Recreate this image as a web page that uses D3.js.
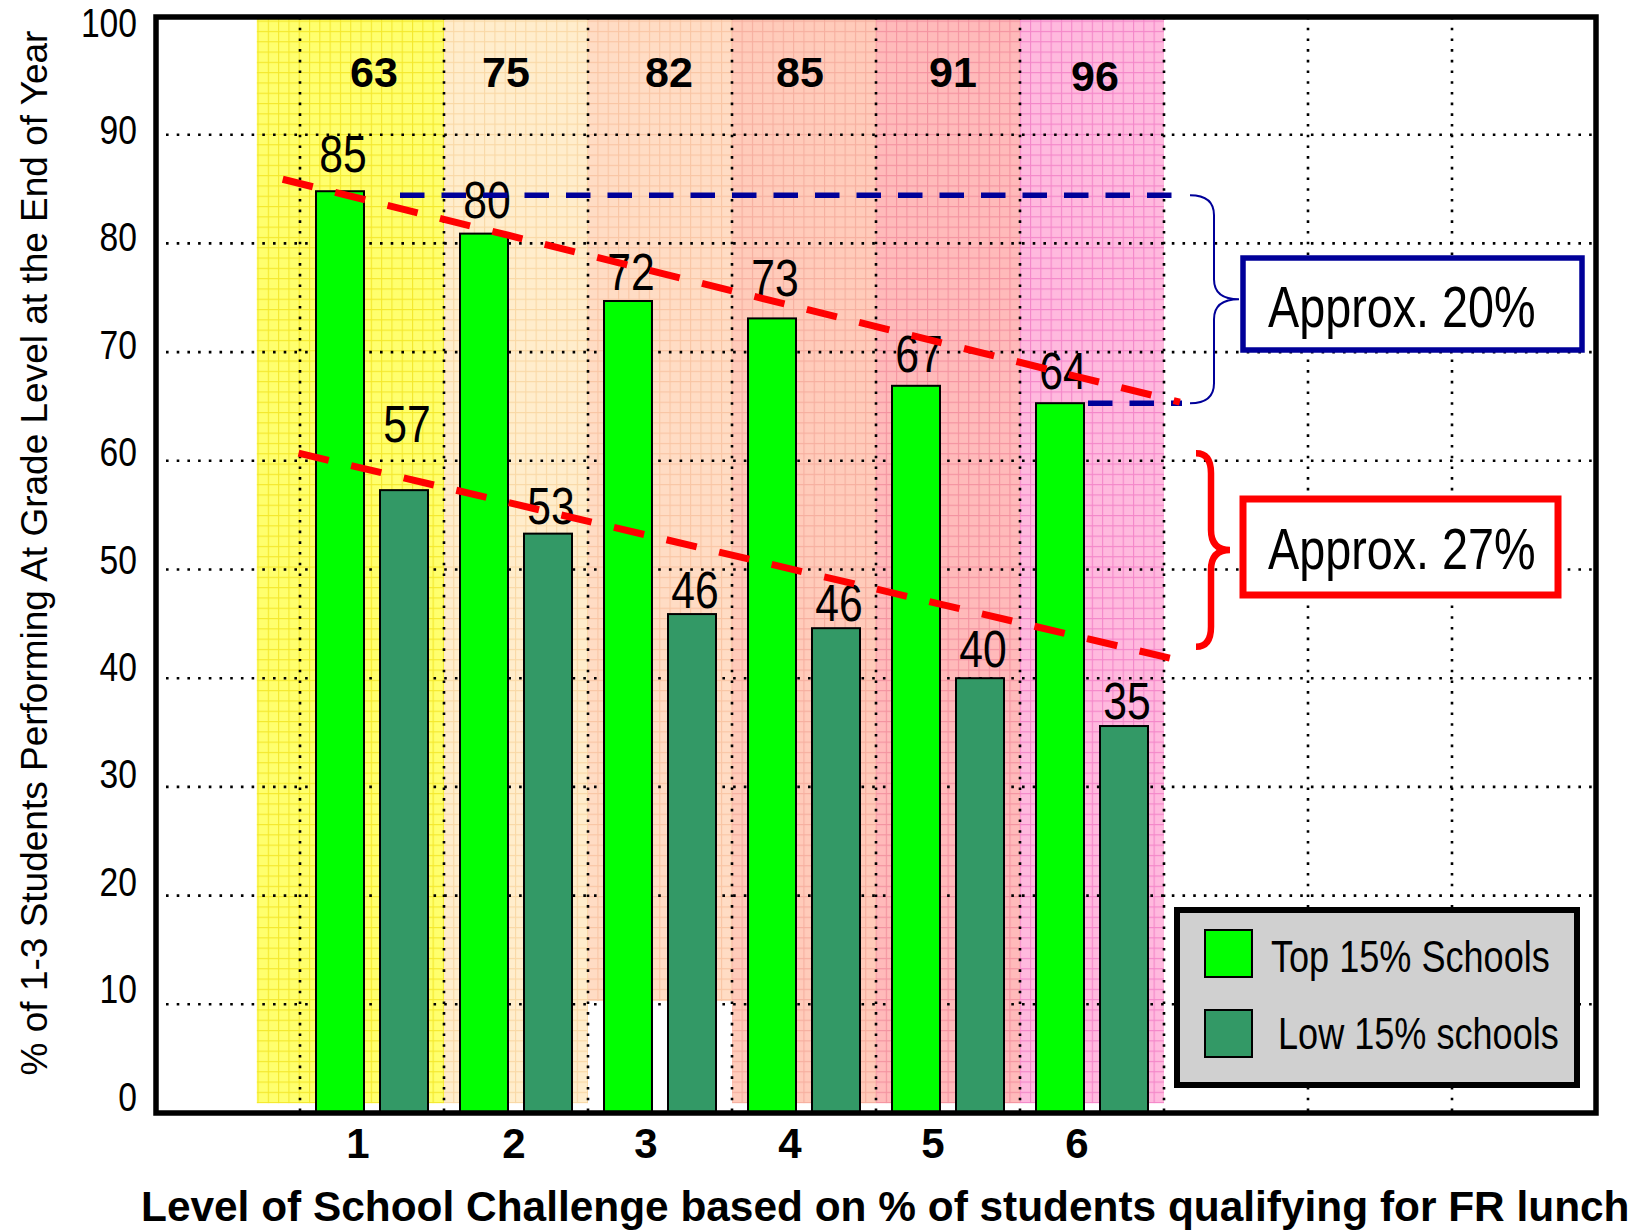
<!DOCTYPE html>
<html>
<head>
<meta charset="utf-8">
<script src="https://cdn.jsdelivr.net/npm/d3@7"></script>
<style>
  body { margin: 0; background: #fff; }
  svg { display: block; }
  .narrow { font-family: "Liberation Sans", Arial, sans-serif; }
  .bold { font-family: "Liberation Sans", Arial, sans-serif; font-weight: bold; }
</style>
</head>
<body>
<svg id="chart" width="1644" height="1232"></svg>
<script>
// data
var levels = [1, 2, 3, 4, 5, 6];
var challengePct = [63, 75, 82, 85, 91, 96];
var topSchools = [84.8, 80.9, 74.7, 73.1, 66.9, 65.3];
var lowSchools = [57.3, 53.3, 45.9, 44.6, 40.0, 35.6];
var topLabels = ["85", "80", "72", "73", "67", "64"];
var lowLabels = ["57", "53", "46", "46", "40", "35"];
var yTicks = [0, 10, 20, 30, 40, 50, 60, 70, 80, 90, 100];
var trendTop = [[0.88, 85.9], [7.11, 65.4]];
var trendLow = [[0.99, 60.7], [7.12, 41.6]];
var seriesNames = ["Top 15% Schools", "Low 15% schools"];
var notes = ["Approx. 20%", "Approx. 27%"];

var svg = d3.select("#chart");
var x = d3.scaleLinear().domain([0, 10]).range([156, 1596]);
var y = d3.scaleLinear().domain([0, 100]).range([1113, 26]);
var yLab = d3.scaleLinear().domain([0, 100]).range([1097, 23]);
var xSub = d3.scaleBand().domain([0, 1]).range([16, 128]).paddingInner(0.25);
var frameTop = 17;

var green = "#00ff00", dark = "#339966", red = "#ff0000", navy = "#000099";

// coloured background panels (graph paper look)
var panelBase = ["#ffff6e", "#ffedcc", "#ffdcc4", "#ffcbba", "#ffbaba", "#ffb9de"];
var panelLine = ["#f2e21c", "#f8d49c", "#f8c09c", "#f4a898", "#f28a9a", "#f27ac4"];
var panelFloor = [0.9, 0.9, 10.3, 0.9, 0.9, 0.9];
var defs = svg.append("defs");
levels.forEach(function(d, i){
    var p = defs.append("pattern").attr("id", "pat" + i)
        .attr("patternUnits", "userSpaceOnUse").attr("width", 10.3).attr("height", 10.3);
    p.append("rect").attr("width", 10.3).attr("height", 10.3).attr("fill", panelBase[i]);
    p.append("path").attr("d", "M0,0.5H10.3M0.5,0V10.3")
        .attr("stroke", panelLine[i]).attr("stroke-width", 1.2).attr("opacity", 0.8);
});
svg.append("g").selectAll("rect").data(levels).enter().append("rect")
    .attr("x", function(d){ return d == 1 ? x(0.7) : x(d); })
    .attr("y", frameTop)
    .attr("width", function(d){ return d == 1 ? x(2) - x(0.7) : x(d + 1) - x(d); })
    .attr("height", function(d, i){ return y(panelFloor[i]) - frameTop; })
    .attr("fill", function(d, i){ return "url(#pat" + i + ")"; });

// dotted grid
var grid = svg.append("g").attr("stroke", "#000").attr("stroke-width", 2.6)
    .attr("stroke-dasharray", "2.6 8.1");
grid.selectAll(".h").data(yTicks.slice(1, -1)).enter().append("line")
    .attr("x1", x(0) + 10).attr("x2", x(10))
    .attr("y1", function(d){ return y(d); }).attr("y2", function(d){ return y(d); });
grid.selectAll(".v").data(d3.range(1, 10)).enter().append("line")
    .attr("y1", frameTop).attr("y2", y(0))
    .attr("x1", function(d){ return x(d); }).attr("x2", function(d){ return x(d); });

// challenge % across the top
var topNudge = [2, -10, 9, -4, 5, 3];
svg.append("g").selectAll("text").data(levels).enter().append("text")
    .attr("class", "bold").attr("font-size", 43).attr("text-anchor", "middle")
    .attr("x", function(d, i){ return x(d + 0.5) + topNudge[i]; })
    .attr("y", function(d, i){ return i == 5 ? 91 : 87; })
    .text(function(d, i){ return challengePct[i]; });

// bars
var bars = svg.append("g").attr("stroke", "#000").attr("stroke-width", 2);
bars.selectAll(".top").data(topSchools).enter().append("rect")
    .attr("x", function(d, i){ return x(levels[i]) + xSub(0); })
    .attr("width", xSub.bandwidth())
    .attr("y", function(d){ return y(d); })
    .attr("height", function(d){ return y(0) - y(d); })
    .attr("fill", green);
bars.selectAll(".low").data(lowSchools).enter().append("rect")
    .attr("x", function(d, i){ return x(levels[i]) + xSub(1); })
    .attr("width", xSub.bandwidth())
    .attr("y", function(d){ return y(d); })
    .attr("height", function(d){ return y(0) - y(d); })
    .attr("fill", dark);

// value labels
var gapTop = [19, 16, 11, 22, 14, 14];
var gapLow = [48, 10, 6, 7, 11, 7];
var labs = svg.append("g").attr("font-size", 52).attr("text-anchor", "middle");
labs.selectAll(".t").data(topSchools).enter().append("text").attr("class", "narrow")
    .attr("x", function(d, i){ return x(levels[i]) + xSub(0) + xSub.bandwidth() / 2 + 3; })
    .attr("y", function(d, i){ return y(d) - gapTop[i]; })
    .text(function(d, i){ return topLabels[i]; });
labs.selectAll(".l").data(lowSchools).enter().append("text").attr("class", "narrow")
    .attr("x", function(d, i){ return x(levels[i]) + xSub(1) + xSub.bandwidth() / 2 + 3; })
    .attr("y", function(d, i){ return y(d) - gapLow[i]; })
    .text(function(d, i){ return lowLabels[i]; });

// blue reference lines and brace
var bx1 = x(7) + 18;
var blueY = [y(topSchools[0]) + 4, y(topSchools[5])];
svg.append("line").attr("x1", x(1) + xSub(0) + xSub.bandwidth() + 36).attr("x2", bx1)
    .attr("y1", blueY[0]).attr("y2", blueY[0])
    .attr("stroke", navy).attr("stroke-width", 5.5).attr("stroke-dasharray", "24.5 17");
svg.append("line").attr("x1", x(6) + xSub(0) + xSub.bandwidth()).attr("x2", bx1)
    .attr("y1", blueY[1]).attr("y2", blueY[1])
    .attr("stroke", navy).attr("stroke-width", 5.5).attr("stroke-dasharray", "24.5 17").attr("stroke-dashoffset", -4);

function brace(x0, xv, xt, y0, y1, r){
    var ym = (y0 + y1) / 2;
    return "M" + x0 + "," + y0 + "Q" + xv + "," + y0 + " " + xv + "," + (y0 + r) +
        "L" + xv + "," + (ym - r) + "Q" + xv + "," + ym + " " + xt + "," + ym +
        "Q" + xv + "," + ym + " " + xv + "," + (ym + r) +
        "L" + xv + "," + (y1 - r) + "Q" + xv + "," + y1 + " " + x0 + "," + y1;
}
svg.append("path").attr("d", brace(x(7) + 26, x(7) + 50, x(7) + 75, blueY[0], blueY[1], 20))
    .attr("fill", "none").attr("stroke", navy).attr("stroke-width", 2);
svg.append("path").attr("d", brace(x(7) + 32, x(7) + 47, x(7) + 66, y(trendLow[0][1]), y(trendLow[1][1]) - 14, 20))
    .attr("fill", "none").attr("stroke", red).attr("stroke-width", 6.5);

// red trend lines
var line = d3.line().x(function(d){ return x(d[0]); }).y(function(d){ return y(d[1]); });
svg.selectAll(".trend").data([trendTop, trendLow]).enter().append("path")
    .attr("d", line).attr("fill", "none").attr("stroke", red)
    .attr("stroke-width", 7).attr("stroke-dasharray", "31 23");

// annotation boxes
var boxes = [{y0: 258, y1: 350, x1: 1582, c: navy, w: 5.5}, {y0: 499, y1: 595, x1: 1558, c: red, w: 7}];
boxes.forEach(function(b, i){
    svg.append("rect").attr("x", 1243).attr("y", b.y0).attr("width", b.x1 - 1243).attr("height", b.y1 - b.y0)
        .attr("fill", "#fff").attr("stroke", b.c).attr("stroke-width", b.w);
    svg.append("text").attr("class", "narrow").attr("font-size", 57)
        .attr("x", 1268).attr("y", i == 0 ? 327 : 569).text(notes[i]);
});

// legend
var lg = svg.append("g");
lg.append("rect").attr("x", 1177).attr("y", 910).attr("width", 400).attr("height", 175)
    .attr("fill", "#d0d0d0").attr("stroke", "#000").attr("stroke-width", 6);
lg.selectAll(".sw").data(seriesNames).enter().append("rect")
    .attr("x", 1205).attr("y", function(d, i){ return 930 + i * 80; })
    .attr("width", 47).attr("height", 47)
    .attr("fill", function(d, i){ return i == 0 ? green : dark; })
    .attr("stroke", "#000").attr("stroke-width", 2);
lg.selectAll(".lt").data(seriesNames).enter().append("text")
    .attr("class", "narrow").attr("font-size", 44)
    .attr("x", function(d, i){ return i == 0 ? 1271 : 1278; })
    .attr("y", function(d, i){ return 972 + i * 77; })
    .text(function(d){ return d; });

// frame
svg.append("rect").attr("x", x(0)).attr("y", frameTop).attr("width", x(10) - x(0)).attr("height", y(0) - frameTop)
    .attr("fill", "none").attr("stroke", "#000").attr("stroke-width", 5.5);

// y axis labels
var yAxis = svg.append("g").attr("transform", "translate(137,0)")
    .call(d3.axisLeft(yLab).tickValues(yTicks).tickSize(0).tickPadding(0));
yAxis.select(".domain").remove();
yAxis.selectAll("text").attr("class", "narrow").attr("font-size", 41).attr("fill", "#000");

// x axis labels
var tickNudge = [-14, -2, -14, -14, -15, -15];
svg.append("g").selectAll("text").data(levels).enter().append("text")
    .attr("class", "bold").attr("font-size", 42).attr("text-anchor", "middle")
    .attr("x", function(d, i){ return x(d + 0.5) + tickNudge[i]; }).attr("y", 1158)
    .text(function(d){ return d; });

svg.append("text").attr("class", "bold").attr("font-size", 42.4)
    .attr("x", 141).attr("y", 1221)
    .text("Level of School Challenge based on % of students qualifying for FR lunch");

svg.append("text").attr("font-family", "Liberation Sans, Arial, sans-serif").attr("font-size", 37)
    .attr("text-anchor", "middle")
    .attr("transform", "translate(47,553) rotate(-90)")
    .text("% of 1-3 Students Performing At Grade Level at the End of Year");

// squeeze the narrow texts like Arial Narrow
svg.selectAll("text.narrow").each(function(){
    var w = this.getComputedTextLength();
    d3.select(this).attr("textLength", w * 0.82).attr("lengthAdjust", "spacingAndGlyphs");
});
</script>
</body>
</html>
